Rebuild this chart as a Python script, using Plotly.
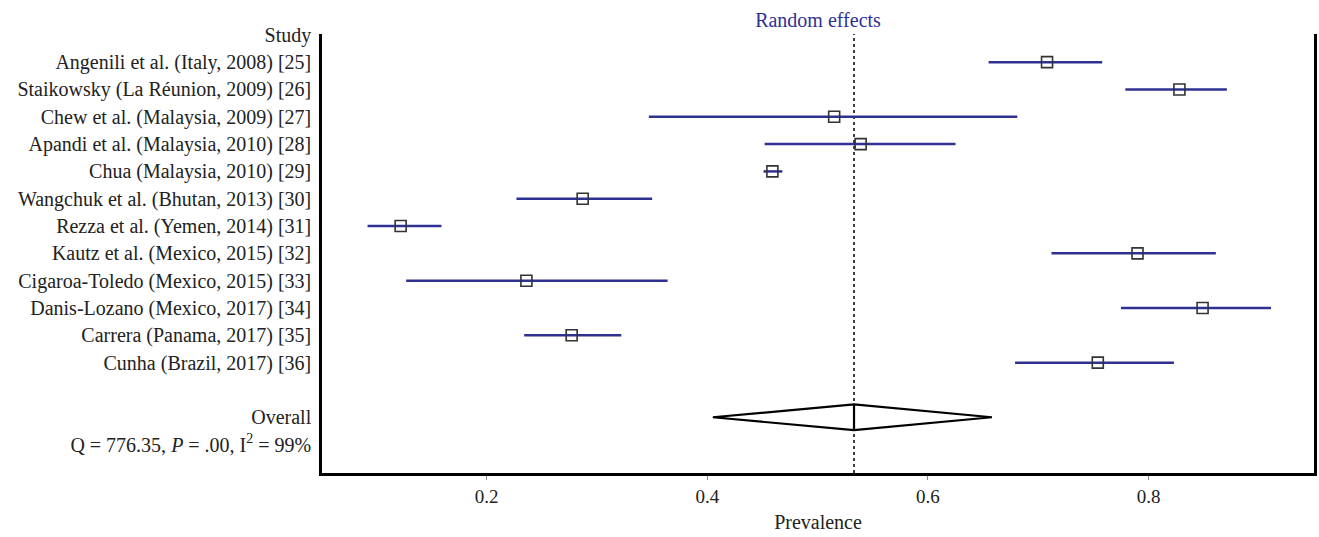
import plotly.graph_objects as go

studies = [
    "Angenili et al. (Italy, 2008) [25]",
    "Staikowsky (La Réunion, 2009) [26]",
    "Chew et al. (Malaysia, 2009) [27]",
    "Apandi et al. (Malaysia, 2010) [28]",
    "Chua (Malaysia, 2010) [29]",
    "Wangchuk et al. (Bhutan, 2013) [30]",
    "Rezza et al. (Yemen, 2014) [31]",
    "Kautz et al. (Mexico, 2015) [32]",
    "Cigaroa-Toledo (Mexico, 2015) [33]",
    "Danis-Lozano (Mexico, 2017) [34]",
    "Carrera (Panama, 2017) [35]",
    "Cunha (Brazil, 2017) [36]",
]
est = [0.708, 0.828, 0.515, 0.539, 0.459, 0.287, 0.122, 0.790, 0.236, 0.849, 0.277, 0.754]
lo = [0.655, 0.779, 0.347, 0.452, 0.451, 0.227, 0.092, 0.712, 0.127, 0.775, 0.234, 0.679]
hi = [0.758, 0.871, 0.681, 0.625, 0.468, 0.350, 0.159, 0.861, 0.364, 0.911, 0.322, 0.823]

overall_est = 0.533
overall_lo = 0.405
overall_hi = 0.658
stats_label = "Q = 776.35, <i>P</i> = .00, I<sup>2</sup> = 99%"

xticks = [0.2, 0.4, 0.6, 0.8]

BLUE = "#2E3192"
FONT = "'Liberation Serif', 'DejaVu Serif', serif"

rows = list(range(1, len(studies) + 1))
overall_row = len(studies) + 2
stats_row = overall_row + 1

fig = go.Figure()

fig.add_trace(go.Scatter(
    x=est, y=rows, mode="markers",
    error_x=dict(type="data", symmetric=False,
                 array=[h - e for h, e in zip(hi, est)],
                 arrayminus=[e - l for e, l in zip(est, lo)],
                 color=BLUE, thickness=2.5, width=0),
    marker=dict(symbol="square-open", size=11, color="#333333", line=dict(width=1.6)),
    showlegend=False, hoverinfo="x+y",
))

hh = 0.47
fig.add_trace(go.Scatter(
    x=[overall_lo, overall_est, overall_hi, overall_est, overall_lo],
    y=[overall_row, overall_row - hh, overall_row, overall_row + hh, overall_row],
    mode="lines", line=dict(color="black", width=2.2), showlegend=False,
))
fig.add_trace(go.Scatter(
    x=[overall_est, overall_est], y=[overall_row - hh, overall_row + hh],
    mode="lines", line=dict(color="black", width=2.2), showlegend=False,
))

fig.add_shape(type="line", xref="x", yref="paper", x0=overall_est, x1=overall_est,
              y0=0, y1=1, line=dict(color="black", width=1.5, dash="dot"), layer="below")

tickvals = [0] + rows + [overall_row, stats_row]
ticktext = ["Study"] + studies + ["Overall", stats_label]

fig.update_layout(
    width=1319, height=537,
    margin=dict(l=322, r=2, t=34, b=64),
    plot_bgcolor="white", paper_bgcolor="white",
    font=dict(family=FONT, size=20, color="#222222"),
    title=dict(text="Random effects", x=0.5, xref="paper", xanchor="center",
               y=1 - 20 / 537, yanchor="middle",
               font=dict(family=FONT, size=20, color=BLUE)),
    xaxis=dict(range=[0.0507, 0.950], tickvals=xticks, ticktext=[str(t) for t in xticks],
               showline=True, linecolor="black", linewidth=2.5, mirror=False,
               ticks="outside", ticklen=4, tickcolor="#888888", showgrid=False, zeroline=False,
               title=dict(text="Prevalence", standoff=10, font=dict(size=20)),
               tickfont=dict(size=19)),
    yaxis=dict(range=[16.04, -0.03], tickvals=tickvals, ticktext=ticktext,
               showline=True, linecolor="black", linewidth=2.5, mirror=True,
               ticks="", showgrid=False, zeroline=False, ticklabelstandoff=4,
               tickfont=dict(size=20)),
)

fig.write_html("out.html", config={"displayModeBar": False},
               post_script="document.body.style.margin='0';")
